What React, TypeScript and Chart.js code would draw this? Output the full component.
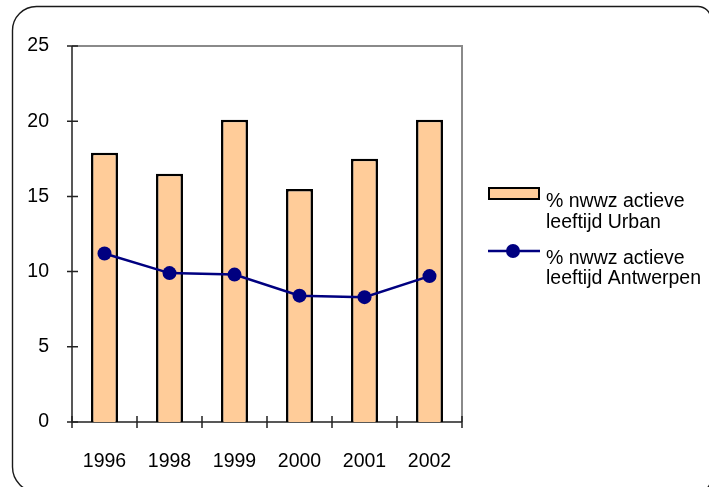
import { useEffect, useRef } from "react";
import { Chart, registerables } from "chart.js";

Chart.register(...registerables);

// Categories and series
const years = ["1996", "1998", "1999", "2000", "2001", "2002"];
const urbanValues = [17.9, 16.5, 20.1, 15.5, 17.5, 20.1];
const antwerpenValues = [11.2, 9.9, 9.8, 8.4, 8.3, 9.7];
const urbanLabel = ["% nwwz actieve", "leeftijd Urban"];
const antwerpenLabel = ["% nwwz actieve", "leeftijd Antwerpen"];
const yMin = 0;
const yMax = 25;
const yStep = 5;

const FONT = '"Liberation Sans", Arial, sans-serif';
const FONT_SIZE = 19.5;
const BAR_FILL = "#FFCC99";
const LINE_COLOR = "#000080";

// White page with a rounded frame running off the right and bottom edges
const framePlugin = {
  id: "frame",
  beforeDraw(chart: any) {
    const ctx = chart.ctx;
    ctx.save();
    ctx.fillStyle = "#ffffff";
    ctx.fillRect(0, 0, chart.width, chart.height);
    ctx.strokeStyle = "#1a1a1a";
    ctx.lineWidth = 1.4;
    ctx.beginPath();
    ctx.roundRect(12.5, 6.5, 698.5, 485.5, [24, 13, 13, 25]);
    ctx.stroke();
    ctx.restore();
  },
};

// Plot-area border, axis lines and crossing tick marks
const axesPlugin = {
  id: "axesDecor",
  beforeDatasetsDraw(chart: any) {
    const ctx = chart.ctx;
    const { left, right, top, bottom } = chart.chartArea;
    const x = chart.scales.x;
    const y = chart.scales.y;
    ctx.save();
    ctx.strokeStyle = "#8a8a8a";
    ctx.lineWidth = 2;
    ctx.beginPath();
    ctx.moveTo(left, top);
    ctx.lineTo(right, top);
    ctx.lineTo(right, bottom);
    ctx.stroke();

    ctx.strokeStyle = "#222222";
    ctx.lineWidth = 1.5;
    ctx.beginPath();
    ctx.moveTo(left, top);
    ctx.lineTo(left, bottom);
    ctx.lineTo(right, bottom);
    ctx.stroke();

    ctx.beginPath();
    y.ticks.forEach((t: any) => {
      const py = y.getPixelForValue(t.value);
      ctx.moveTo(left - 5, py);
      ctx.lineTo(left + 6, py);
    });
    for (let i = 0; i <= years.length; i++) {
      const px = x.getPixelForValue(i - 0.5);
      ctx.moveTo(px, bottom - 6);
      ctx.lineTo(px, bottom + 6);
    }
    ctx.stroke();
    ctx.restore();
  },
};

// Two-line legend entries to the right of the plot
const legendPlugin = {
  id: "sideLegend",
  afterDraw(chart: any) {
    const ctx = chart.ctx;
    ctx.save();
    ctx.font = `${FONT_SIZE}px ${FONT}`;
    ctx.textAlign = "left";
    ctx.textBaseline = "alphabetic";

    // bar swatch
    ctx.fillStyle = BAR_FILL;
    ctx.fillRect(489, 188, 50, 11);
    ctx.strokeStyle = "#000";
    ctx.lineWidth = 2;
    ctx.strokeRect(489, 188, 50, 11);
    ctx.fillStyle = "#000";
    ctx.fillText(urbanLabel[0], 546, 207);
    ctx.fillText(urbanLabel[1], 546, 228);

    // line swatch
    ctx.strokeStyle = LINE_COLOR;
    ctx.lineWidth = 2.5;
    ctx.beginPath();
    ctx.moveTo(488, 251);
    ctx.lineTo(540, 251);
    ctx.stroke();
    ctx.fillStyle = LINE_COLOR;
    ctx.beginPath();
    ctx.arc(513, 251, 7, 0, Math.PI * 2);
    ctx.fill();
    ctx.fillStyle = "#000";
    ctx.fillText(antwerpenLabel[0], 546, 264);
    ctx.fillText(antwerpenLabel[1], 546, 284);
    ctx.restore();
  },
};

export default function App() {
  const canvasRef = useRef<HTMLCanvasElement | null>(null);

  useEffect(() => {
    const canvas = canvasRef.current;
    if (!canvas) return;
    const chart = new Chart(canvas, {
      type: "bar",
      data: {
        labels: years,
        datasets: [
          {
            type: "line",
            label: antwerpenLabel.join(" "),
            data: antwerpenValues,
            borderColor: LINE_COLOR,
            backgroundColor: LINE_COLOR,
            borderWidth: 2.5,
            pointRadius: 7,
            pointBackgroundColor: LINE_COLOR,
            pointBorderWidth: 0,
            tension: 0,
            order: 0,
          },
          {
            type: "bar",
            label: urbanLabel.join(" "),
            data: urbanValues,
            backgroundColor: BAR_FILL,
            borderColor: "#000",
            borderWidth: 2.5,
            categoryPercentage: 1,
            barPercentage: 0.415,
            order: 1,
          },
        ],
      },
      options: {
        responsive: false,
        animation: false,
        devicePixelRatio: 1,
        layout: { padding: { left: 0, top: 46, right: 247, bottom: 0 } },
        plugins: {
          legend: { display: false },
          tooltip: { enabled: false },
        },
        scales: {
          x: {
            type: "category",
            offset: true,
            grid: { display: false },
            border: { display: false },
            ticks: {
              color: "#000",
              font: { family: FONT, size: FONT_SIZE },
              padding: 20,
              maxRotation: 0,
              autoSkip: false,
            },
            afterFit(scale: any) {
              scale.height = 65;
            },
          },
          y: {
            min: yMin,
            max: yMax,
            grid: { display: false },
            border: { display: false },
            ticks: {
              stepSize: yStep,
              color: "#000",
              font: { family: FONT, size: FONT_SIZE },
              padding: 15,
            },
            afterFit(scale: any) {
              scale.width = 72;
            },
          },
        },
      },
      plugins: [framePlugin, axesPlugin, legendPlugin],
    } as any);
    return () => chart.destroy();
  }, []);

  return (
    <div style={{ position: "absolute", left: 0, top: 0, width: 709, height: 487 }}>
      <canvas ref={canvasRef} width={709} height={487} style={{ display: "block" }} />
    </div>
  );
}
